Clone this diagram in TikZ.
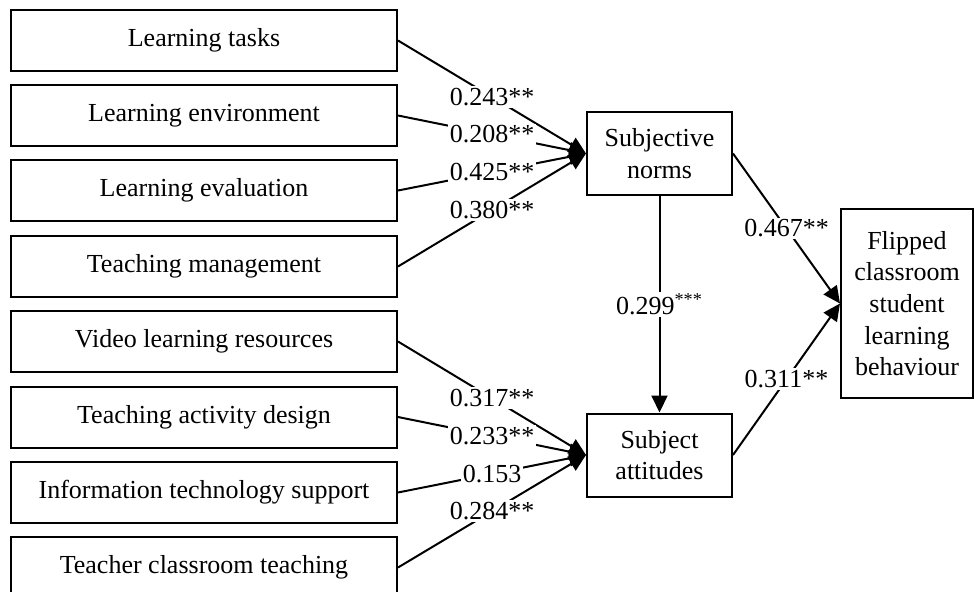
\documentclass[tikz,border=0pt]{standalone}
\usepackage{fontspec}
\setmainfont{Liberation Serif}
\usetikzlibrary{arrows.meta, positioning}

\begin{document}
\begin{tikzpicture}[x=0.5pt, y=-0.5pt,
  font=\fontsize{13}{15.8}\selectfont,
  factor/.style={draw, line width=1pt, minimum width=193pt, minimum height=30.5pt, inner sep=0pt},
  construct/.style={draw, line width=1pt, minimum width=72.5pt, minimum height=41.5pt, inner sep=0pt, align=center},
  outcome/.style={draw, line width=1pt, minimum width=66pt, minimum height=94.5pt, inner sep=0pt, align=center},
  link/.style={line width=1pt, -{Triangle[length=8.5pt,width=8pt]}},
  coef/.style={fill=white, inner sep=1pt, midway}]

  \useasboundingbox (0,0) rectangle (974,591);

  % FACTORS: SUBJECTIVE NORMS
  \node[factor] (tasks) at (204,40.5) {Learning tasks};
  \node[factor] (envir) at (204,115.5) {Learning environment};
  \node[factor] (evalu) at (204,190.5) {Learning evaluation};
  \node[factor] (manag) at (204,266.5) {Teaching management};
  %
  % FACTORS: SUBJECT ATTITUDES
  \node[factor] (video) at (204,341.5) {Video learning resources};
  \node[factor] (activ) at (204,417) {Teaching activity design};
  \node[factor] (techn) at (204,492.5) {Information technology support};
  \node[factor] (teach) at (204,567.5) {Teacher classroom teaching};

  % CONSTRUCTS
  \node[construct] (norms) at (659.5,153.5) {Subjective\\norms};
  \node[construct] (attit) at (659.5,455) {Subject\\attitudes};
  \node[outcome] (behav) at (907,303.5) {Flipped\\classroom\\student\\learning\\behaviour};

  % PATHS: INTO SUBJECTIVE NORMS
  \draw[link] (tasks.east) -- node[coef] {0.243**} (norms.west);
  \draw[link] (envir.east) -- node[coef] {0.208**} (norms.west);
  \draw[link] (evalu.east) -- node[coef] {0.425**} (norms.west);
  \draw[link] (manag.east) -- node[coef] {0.380**} (norms.west);
  %
  % PATHS: INTO SUBJECT ATTITUDES
  \draw[link] (video.east) -- node[coef] {0.317**} (attit.west);
  \draw[link] (activ.east) -- node[coef] {0.233**} (attit.west);
  \draw[link] (techn.east) -- node[coef] {0.153} (attit.west);
  \draw[link] (teach.east) -- node[coef] {0.284**} (attit.west);
  %
  % PATHS: INTO BEHAVIOUR
  \draw[link] (norms.south) -- node[coef] {0.299\textsuperscript{***}} (attit.north);
  \draw[link] (norms.east) -- node[coef] {0.467**} (behav.west);
  \draw[link] (attit.east) -- node[coef] {0.311**} (behav.west);

\end{tikzpicture}
\end{document}
